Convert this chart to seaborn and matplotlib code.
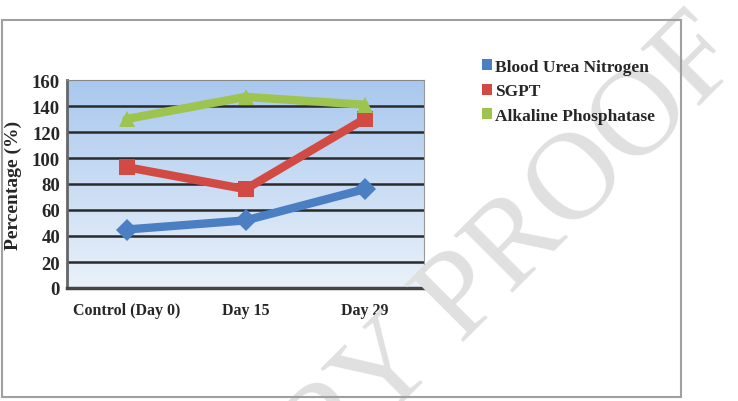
import numpy as np
import pandas as pd
import matplotlib
matplotlib.use("Agg")
import matplotlib.pyplot as plt
import seaborn as sns
from matplotlib.colors import LinearSegmentedColormap
from matplotlib.patches import Rectangle, Patch

##### DATA #####
days = ["Control (Day 0)", "Day 15", "Day 29"]
series = ["Blood Urea Nitrogen", "SGPT", "Alkaline Phosphatase"]
bun = [45, 52, 76]
sgpt = [93, 76, 130]
alp = [130, 147, 141]
y_ticks = [0, 20, 40, 60, 80, 100, 120, 140, 160]

df = pd.DataFrame({
    "pos": list(range(len(days))) * 3,
    "value": bun + sgpt + alp,
    "series": [s for s in series for _ in days],
})

colors = {"Blood Urea Nitrogen": "#4a7fc3", "SGPT": "#d14a44", "Alkaline Phosphatase": "#9cc44f"}
markers = {"Blood Urea Nitrogen": "D", "SGPT": "s", "Alkaline Phosphatase": "^"}

##### STYLE #####
sns.set_style("white")
plt.rcParams['font.family'] = ['Liberation Serif', 'DejaVu Serif']

fig = plt.figure(figsize=(7.38, 4.02), dpi=100)
ax = fig.add_axes([67 / 738, 113 / 402, 357 / 738, 208 / 402])

## gradient background
grad = np.linspace(0, 1, 256).reshape(-1, 1)
cmap = LinearSegmentedColormap.from_list("bg", ["#eaf1fa", "#a9c8ee"])
ax.imshow(grad, extent=[-0.5, 2.5, 0, 160], origin="lower", aspect="auto", cmap=cmap, zorder=0)

for y in y_ticks[1:-1]:
    ax.axhline(y, color="#2a2a2a", lw=1.8, zorder=1)

sns.lineplot(data=df, x="pos", y="value", hue="series", style="series",
             palette=colors, markers=markers, dashes=False, linewidth=6,
             markersize=11, markeredgewidth=0, legend=False, sort=False, ax=ax, zorder=3)

ax.set_xlim(-0.5, 2.5)
ax.set_ylim(0, 160)
ax.set_yticks(y_ticks)
ax.set_yticklabels([str(v) for v in y_ticks], fontsize=13.5, fontweight="bold")
ax.set_xticks(range(len(days)))
ax.set_xticklabels(days, fontsize=11.5, fontweight="bold")
ax.set_xticks([c + d for c in range(3) for d in (-0.3, -0.1, 0.1, 0.3)], minor=True)
ax.tick_params(axis="x", which="major", length=0, pad=10)
ax.tick_params(axis="x", which="minor", length=5, width=1.2, color="#333333", direction="out")
ax.tick_params(axis="y", length=0, pad=5)
ax.set_xlabel("")
ax.set_ylabel("Percentage (%)", fontsize=14, fontweight="bold")
ax.yaxis.set_label_coords(-0.125, 0.5)

ax.spines["left"].set_color("#666666")
ax.spines["left"].set_linewidth(2)
ax.spines["bottom"].set_color("#444444")
ax.spines["bottom"].set_linewidth(2.5)
ax.spines["top"].set_color("#888888")
ax.spines["right"].set_color("#999999")

## legend
handles = [Patch(facecolor=colors[s], edgecolor="none") for s in series]
fig.legend(handles, series, loc="upper left", bbox_to_anchor=(466 / 738, 1 - 44 / 402),
           frameon=False, prop={"weight": "bold", "size": 12.5},
           handlelength=0.6, handleheight=0.6, handletextpad=0.15, labelspacing=0.5)

## outer frame
fig.patches.append(Rectangle((1.5 / 738, 4 / 402), 679.5 / 738, 377 / 402,
                             transform=fig.transFigure, fill=False,
                             edgecolor="#a0a0a0", lw=1.5))

## watermark
fig.text(455 / 738, 1 - 308 / 402, "COPY PROOF", rotation=45, rotation_mode="anchor",
         ha="center", va="center", fontsize=90, color="#e0e0e0", zorder=0.5)

fig.savefig("out.png", dpi=100)
